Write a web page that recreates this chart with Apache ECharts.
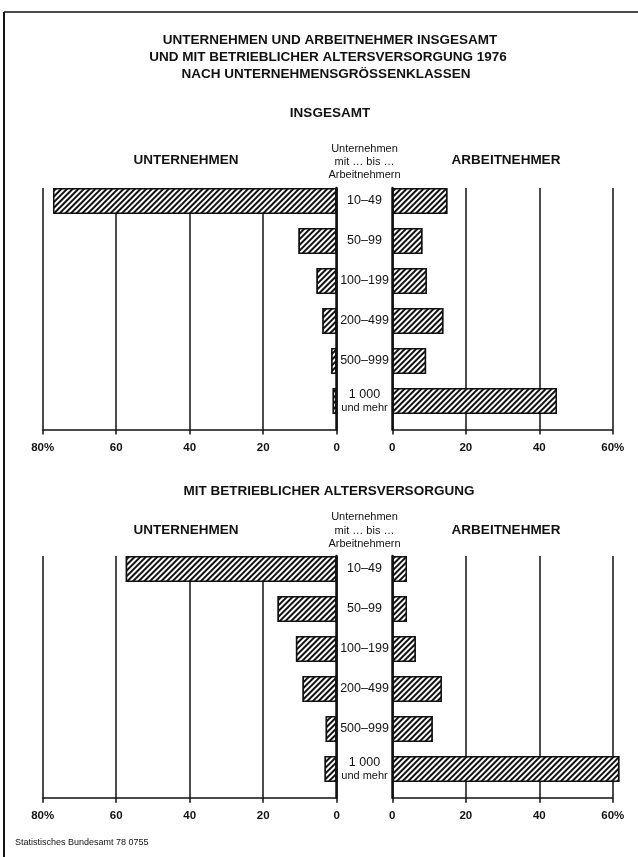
<!DOCTYPE html>
<html><head><meta charset="utf-8">
<script src="https://cdn.jsdelivr.net/npm/echarts@6/dist/echarts.min.js"></script>
<style>html,body{margin:0;padding:0;background:#fff}#c{width:638px;height:857px}</style>
</head><body><div id="c"></div>
<script>
// ---- data ----
const categories = ['10–49', '50–99', '100–199', '200–499', '500–999', '1 000\nund mehr'];
const unternehmenInsgesamt = [77.2, 10.4, 5.5, 3.9, 1.5, 1.1];
const arbeitnehmerInsgesamt = [15.0, 8.2, 9.4, 13.9, 9.2, 44.8];
const unternehmenAltersv = [57.4, 16.1, 11.1, 9.3, 3.0, 3.3];
const arbeitnehmerAltersv = [4.0, 4.0, 6.4, 13.5, 11.0, 61.8];
const leftTickLabels = ['0', '20', '40', '60', '80%'];
const rightTickLabels = ['0', '20', '40', '60%'];

// ---- style ----
const INK = '#111';
const FONT = '"Liberation Sans",Arial,sans-serif';
const HATCH = {symbol: 'rect', symbolSize: 1, color: INK, backgroundColor: '#fff',
  dashArrayX: [1, 0], dashArrayY: [1.7, 1.5], rotation: -Math.PI / 4};
const L_X0 = 42.7, L_W = 294, R_X0 = 392.3, R_W = 220.5;

const panels = [
  {bandTop: 181, frameTop: 188, axisY: 429.5, left: unternehmenInsgesamt, right: arbeitnehmerInsgesamt},
  {bandTop: 549, frameTop: 556, axisY: 797.7, left: unternehmenAltersv, right: arbeitnehmerAltersv}
];

function frameX(gi, max, inverse, labels) {
  return {gridIndex: gi, type: 'value', min: 0, max: max, interval: 20, inverse: inverse, z: 0,
    axisLine: {show: true, onZero: false, lineStyle: {color: INK, width: 1.5}},
    axisTick: {show: true, length: 5, lineStyle: {color: INK, width: 1.5}},
    axisLabel: {show: true, margin: 12, color: INK, fontFamily: FONT, fontWeight: 'bold', fontSize: 11.5,
      formatter: v => labels[Math.round(v / 20)]},
    splitLine: {show: true, showMinLine: true, showMaxLine: true, lineStyle: {color: INK, width: 1.5}}};
}
function zeroY(gi, pos) {
  return {gridIndex: gi, type: 'value', min: 0, max: 1, position: pos, z: 5,
    axisLine: {show: true, onZero: false, lineStyle: {color: INK, width: 2.5}},
    axisTick: {show: false}, axisLabel: {show: false}, splitLine: {show: false}};
}
function barSeries(gi, vals) {
  return {type: 'bar', xAxisIndex: gi, yAxisIndex: gi, data: vals, barWidth: 26, clip: false, z: 3,
    silent: true, animation: false,
    itemStyle: {color: '#fff', borderColor: INK, borderWidth: 1.5, decal: HATCH}};
}

const grid = [], xAxis = [], yAxis = [], series = [];
panels.forEach(p => {
  const b = grid.length;
  grid.push({left: L_X0, width: L_W, top: p.bandTop, height: 240, outerBoundsMode: 'none'});
  grid.push({left: R_X0, width: R_W, top: p.bandTop, height: 240, outerBoundsMode: 'none'});
  grid.push({left: L_X0, width: L_W, top: p.frameTop, height: p.axisY - p.frameTop, outerBoundsMode: 'none'});
  grid.push({left: R_X0, width: R_W, top: p.frameTop, height: p.axisY - p.frameTop, outerBoundsMode: 'none'});
  xAxis.push({gridIndex: b, type: 'value', min: 0, max: 80, inverse: true, show: false});
  xAxis.push({gridIndex: b + 1, type: 'value', min: 0, max: 60, show: false});
  xAxis.push(frameX(b + 2, 80, true, leftTickLabels));
  xAxis.push(frameX(b + 3, 60, false, rightTickLabels));
  yAxis.push({gridIndex: b, type: 'category', data: categories, inverse: true, position: 'right',
    axisLine: {show: false}, axisTick: {show: false}, splitLine: {show: false},
    axisLabel: {show: true, align: 'center', margin: 27.8, color: INK, fontFamily: FONT,
      fontSize: 12.5, lineHeight: 14,
      formatter: v => v.replace('und mehr', '{s|und mehr}'),
      rich: {s: {fontSize: 11, fontFamily: FONT, color: INK, lineHeight: 13}}}});
  yAxis.push({gridIndex: b + 1, type: 'category', data: categories, inverse: true, show: false});
  yAxis.push(zeroY(b + 2, 'right'));
  yAxis.push(zeroY(b + 3, 'left'));
  series.push(barSeries(b, p.left));
  series.push(barSeries(b + 1, p.right));
});

function txt(x, y, text, font, align) {
  return {type: 'text', x: x, y: y, silent: true, z: 10,
    style: {text: text, font: font, fill: INK, align: align || 'center', verticalAlign: 'middle',
      textAlign: align || 'center', textVerticalAlign: 'middle'}};
}
const TITLE = 'bold 13.5px ' + FONT;
const HEAD = 'bold 13.5px ' + FONT;
const SMALL = '11px ' + FONT;
const graphics = [
  {type: 'line', silent: true, shape: {x1: 4, y1: 12, x2: 638, y2: 12}, style: {stroke: INK, lineWidth: 1.5}},
  {type: 'line', silent: true, shape: {x1: 4, y1: 12, x2: 4, y2: 857}, style: {stroke: INK, lineWidth: 2}},
  txt(330, 40, 'UNTERNEHMEN UND ARBEITNEHMER INSGESAMT', TITLE),
  txt(328, 57, 'UND MIT BETRIEBLICHER ALTERSVERSORGUNG 1976', TITLE),
  txt(326, 74, 'NACH UNTERNEHMENSGRÖSSENKLASSEN', TITLE),
  txt(330, 113, 'INSGESAMT', TITLE),
  txt(186, 160, 'UNTERNEHMEN', HEAD),
  txt(506, 160, 'ARBEITNEHMER', HEAD),
  txt(364.5, 149, 'Unternehmen', SMALL),
  txt(364.5, 162, 'mit … bis …', SMALL),
  txt(364.5, 175, 'Arbeitnehmern', SMALL),
  txt(329, 491, 'MIT BETRIEBLICHER ALTERSVERSORGUNG', TITLE),
  txt(186, 530, 'UNTERNEHMEN', HEAD),
  txt(506, 530, 'ARBEITNEHMER', HEAD),
  txt(364.5, 517, 'Unternehmen', SMALL),
  txt(364.5, 530.5, 'mit … bis …', SMALL),
  txt(364.5, 544, 'Arbeitnehmern', SMALL),
  txt(15, 843, 'Statistisches Bundesamt 78 0755', '9px ' + FONT, 'left')
];

const chart = echarts.init(document.getElementById('c'), null, {renderer: 'canvas'});
chart.setOption({
  animation: false,
  backgroundColor: '#fff',
  aria: {enabled: false},
  grid: grid, xAxis: xAxis, yAxis: yAxis, series: series,
  graphic: {elements: graphics}
});
</script></body></html>
